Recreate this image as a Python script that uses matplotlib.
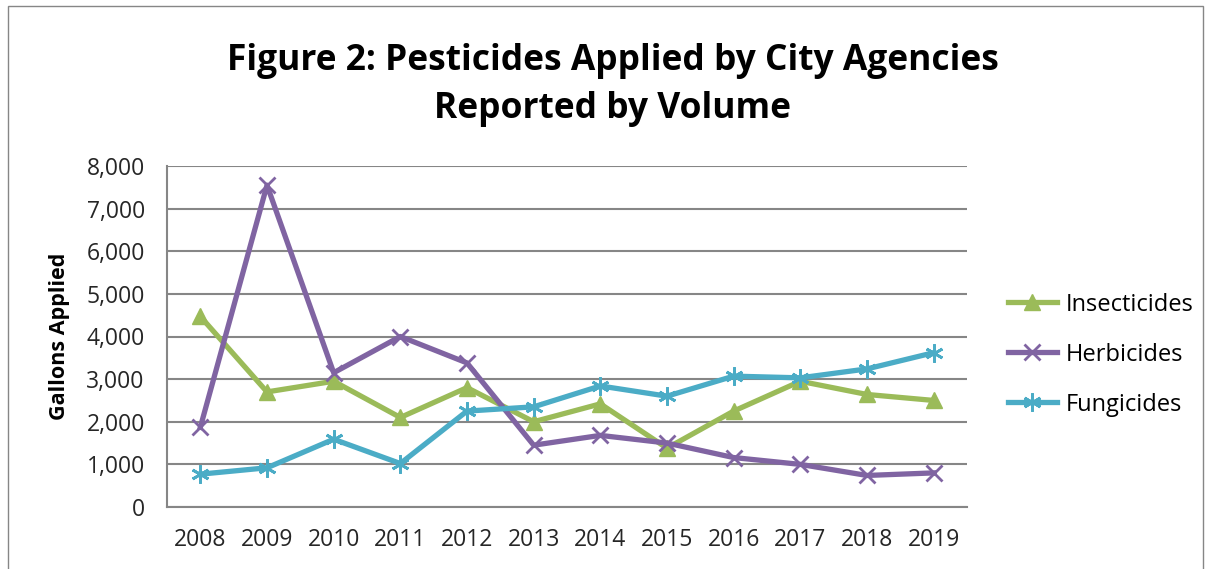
import matplotlib.pyplot as plt
from matplotlib.ticker import FuncFormatter

years = [2008, 2009, 2010, 2011, 2012, 2013, 2014, 2015, 2016, 2017, 2018, 2019]
insecticides = [4470, 2700, 2950, 2100, 2800, 2000, 2420, 1380, 2250, 2950, 2640, 2500]
herbicides = [1870, 7550, 3150, 4000, 3380, 1450, 1680, 1500, 1160, 1000, 740, 800]
fungicides = [770, 920, 1590, 1020, 2250, 2350, 2840, 2600, 3070, 3030, 3240, 3620]

plt.rcParams['font.family'] = ['Open Sans', 'DejaVu Sans']

fig = plt.figure(figsize=(12.11, 5.69), dpi=100)
ax = fig.add_axes([167 / 1211, 1 - 507 / 569, 800 / 1211, 341 / 569])

x = list(range(len(years)))
ax.plot(x, insecticides, color='#9bbb59', lw=3.8, marker='^', ms=12,
        label='Insecticides')
ax.plot(x, herbicides, color='#8064a2', lw=3.8, marker='x', ms=12, mew=2,
        label='Herbicides')
ax.plot(x, fungicides, color='#4bacc6', lw=3.8, marker=(6, 2, 0), ms=13, mew=2,
        label='Fungicides')

ax.set_xlim(-0.5, len(years) - 0.5)
ax.set_ylim(0, 8000)
ax.set_yticks(range(0, 8001, 1000))
ax.yaxis.set_major_formatter(FuncFormatter(lambda v, p: f'{int(v):,}'))
ax.set_xticks(x)
ax.set_xticklabels([str(y) for y in years])
ax.grid(axis='y', color='#868686', lw=1.5)
ax.set_axisbelow(True)
for s in ['top', 'right']:
    ax.spines[s].set_visible(False)
for s in ['left', 'bottom']:
    ax.spines[s].set_color('#868686')
    ax.spines[s].set_linewidth(1.5)
ax.tick_params(axis='both', length=0, labelsize=16.5, colors='#262626')
ax.tick_params(axis='y', pad=16)
ax.tick_params(axis='x', pad=15)
ax.set_ylabel('Gallons Applied', fontsize=15.5, fontweight='bold', labelpad=12)

fig.text(0.506, 0.850, 'Figure 2: Pesticides Applied by City Agencies\nReported by Volume',
         ha='center', va='center', fontsize=25.5, fontweight='bold', linespacing=1.45)

ax.legend(loc='center left', bbox_to_anchor=(1.039, 0.447), frameon=False,
          fontsize=17, handlelength=2.1, labelspacing=1.1, handletextpad=0.35,
          borderaxespad=0)

fig.patches.append(plt.Rectangle((8 / 1211, -0.05), 1195 / 1211, 1.04,
                                 transform=fig.transFigure, fill=False,
                                 edgecolor='#868686', lw=1))

fig.savefig('out.png', dpi=100)
